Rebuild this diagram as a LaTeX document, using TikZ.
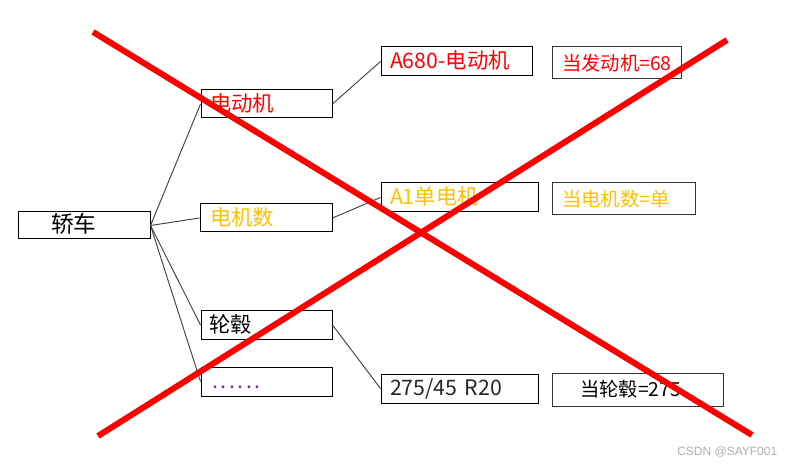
\documentclass[tikz,border=0pt]{standalone}
\usepackage{fontspec}
\setmainfont{Noto Sans CJK SC}
\newfontfamily\wmfont{Liberation Sans}
\definecolor{tred}{RGB}{255,0,0}
\definecolor{tgold}{RGB}{255,192,0}
\definecolor{tpurple}{RGB}{112,48,160}
\definecolor{lgray}{RGB}{64,64,64}
\definecolor{wmgray}{RGB}{175,175,175}
\begin{document}
\begin{tikzpicture}[x=0.75pt,y=-0.75pt,
  box/.style={draw=black, line width=0.75pt, align=left, inner ysep=0pt,
    text height=13pt, text depth=1.8pt, font=\fontsize{16}{19}\selectfont},
  cbox/.style={box, draw=black!80, font=\fontsize{14.5}{17}\selectfont},
  link/.style={draw=lgray, line width=0.7pt},
  cross/.style={draw=tred, line width=4.5pt}]
\useasboundingbox (0,0) rectangle (795,466);

% level 1
\node[box, font=\fontsize{17}{20}\selectfont, minimum width=99pt, minimum height=20.25pt, inner xsep=24.75pt, text width=49.5pt] (car) at (84,225.5) {轿车};

% level 2
\node[box, text=tred, minimum width=98.25pt, minimum height=21pt, inner xsep=6.75pt, text width=84.75pt] (b1) at (266.5,104) {电动机};
\node[box, text=tgold, minimum width=99pt, minimum height=21pt, inner xsep=7.5pt, text width=84pt] (b2) at (266,218) {电机数};
\node[box, minimum width=98.25pt, minimum height=21pt, inner xsep=6pt, text width=86.25pt] (b3) at (266.5,325) {轮毂};
\node[box, text=tpurple, minimum width=98.25pt, minimum height=21.75pt, inner xsep=8.25pt, text width=81.75pt] (b4) at (266.5,381.5) {.\kern2pt.\kern2pt.\kern2pt.\kern2pt.\kern2pt.};

% level 3
\node[box, text=tred, minimum width=113.25pt, minimum height=21.75pt, inner xsep=6.75pt, text width=99.75pt] (a1) at (456.5,61.5) {A680-电动机};
\node[box, text=tgold, minimum width=117.75pt, minimum height=21.75pt, inner xsep=6.75pt, text width=104.25pt] (a2) at (459.5,197.5) {A1单电机};
\node[box, text=black!85, minimum width=117.75pt, minimum height=21.75pt, inner xsep=6.75pt, text width=104.25pt] (a3) at (459.5,388.5) {275/45 R20};

% conditions
\node[cbox, text=tred, minimum width=96.75pt, minimum height=24pt, inner xsep=7.5pt, text width=81.75pt] (c1) at (616.5,63) {当发动机=68};
\node[cbox, text=tgold, minimum width=107.25pt, minimum height=24pt, inner xsep=7.5pt, text width=92.25pt] (c2) at (623.5,199) {当电机数=单};
\node[cbox, text=black, minimum width=128.25pt, minimum height=24.75pt, inner xsep=21pt, text width=86.25pt] (c3) at (637.5,389.5) {当轮毂=275};

% connectors
\draw[link] (car.east) -- (b1.west);
\draw[link] (car.east) -- (b2.west);
\draw[link] (car.east) -- (b3.west);
\draw[link] (car.east) -- (b4.west);
\draw[link] (b1.east) -- (a1.west);
\draw[link] (b2.east) -- (a2.west);
\draw[link] (b3.east) -- (a3.west);

% red cross
\coordinate (x1s) at (93,32);
\coordinate (x1e) at (752,435);
\coordinate (x2s) at (98,436);
\coordinate (x2e) at (727,40);
\draw[cross] (x1s) -- (x1e);
\draw[cross] (x2s) -- (x2e);

% watermark
\node[text=wmgray, font=\wmfont\fontsize{9}{11}\selectfont, anchor=west, inner sep=0pt] (wm) at (677,452) {CSDN @SAYF001};
\end{tikzpicture}
\end{document}
